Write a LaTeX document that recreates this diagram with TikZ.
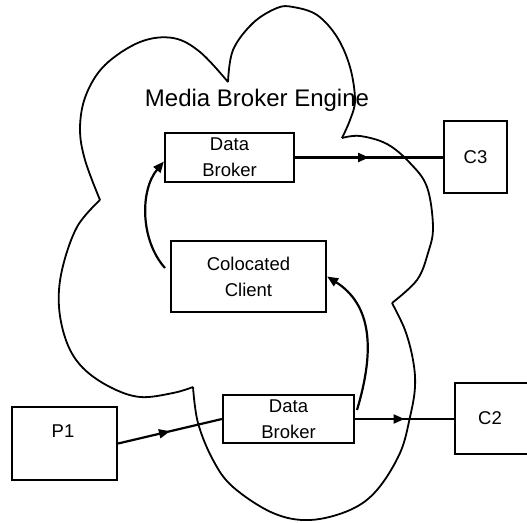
\documentclass[tikz,border=0pt]{standalone}
\usepackage{fontspec}
\setmainfont{Liberation Sans}
\usetikzlibrary{arrows.meta,decorations.markings}

\tikzset{
  box/.style={draw, line width=2.2pt, rectangle, inner sep=0pt, align=center,
              font=\fontsize{18.5}{26}\selectfont},
  lbl/.style={inner sep=0pt, font=\fontsize{18.5}{26}\selectfont},
  cloudline/.style={line width=1.8pt, line join=round},
  tipstyle/.style={-{Triangle[length=11pt,width=9pt]}},
  flow/.style={line width=2.2pt},
  midarrow/.style={flow, postaction={decorate},
    decoration={markings, mark=at position 0.5 with {\arrow{Triangle[length=11pt,width=9pt]}}}},
}

\begin{document}
\begin{tikzpicture}[x=1pt, y=-1pt]
\useasboundingbox (0,0) rectangle (527,522);
\clip (0,0) rectangle (527,522);
\fill[white] (0,0) rectangle (527,522);

% engine outline: five lobes meeting at cusps
\draw[cloudline] plot[smooth, tension=0.6] coordinates {
  (100,200) (85,160) (80,128) (86,95) (105,65) (140,42) (173,38) (200,52) (228,82)};
\draw[cloudline] plot[smooth, tension=0.6] coordinates {
  (228,82) (233,50) (253,23) (277,8) (293,7) (317,15) (337,37) (350,67) (355,100) (350,120) (342,138)};
\draw[cloudline] plot[smooth, tension=0.6] coordinates {
  (342,138) (360,136) (387,144) (410,163) (427,187) (433,227) (428,253) (417,280) (392,303)};
\draw[cloudline] plot[smooth, tension=0.6] coordinates {
  (392,303) (405,330) (413,360) (415,387) (410,417) (400,453) (377,490) (350,510) (310,520)
  (273,513) (233,487) (213,460) (198,423) (193,387)};
\draw[cloudline] plot[smooth, tension=0.6] coordinates {
  (193,387) (173,393) (140,397) (110,387) (83,368) (67,343) (59,307) (62,270) (77,227) (100,200)};

\node[inner sep=0pt, font=\fontsize{24}{28}\selectfont] (title) at (257,100) {Media Broker Engine};

% boxes
\node[box, minimum width=129pt, minimum height=49pt] (db1) at (229.5,157.5) {Data\\Broker};
\node[box, minimum width=63pt, minimum height=72pt] (c3) at (475.5,157) {C3};
\node[box, minimum width=155pt, minimum height=71pt] (cc) at (248.5,276.5) {Colocated\\Client};
\node[box, minimum width=131pt, minimum height=48pt] (db2) at (288.5,419) {Data\\Broker};
\node[box, minimum width=105pt, minimum height=73pt] (p1) at (64.5,443.5) {};
\node[lbl] (p1t) at (63,431) {P1};
\node[box, minimum width=85pt, minimum height=71pt] (c2) at (497.5,418.5) {};
\node[lbl] (c2t) at (490,418.5) {C2};

% straight flows
\draw[midarrow] (db1.east) -- (db1.east -| c3.west);
\draw[midarrow] (db2.east) -- (db2.east -| c2.west);
\draw[midarrow] (p1.east) -- (db2.west);

% curved flows
\coordinate (s1) at (165,268);
\coordinate (s2) at (357,410);
\draw[flow, tipstyle] (s1) .. controls (140,240) and (140,190) .. ([yshift=-4pt]db1.west);
\draw[flow, tipstyle] (s2) .. controls (375,350) and (372,305) .. (cc.east);
\end{tikzpicture}
\end{document}
